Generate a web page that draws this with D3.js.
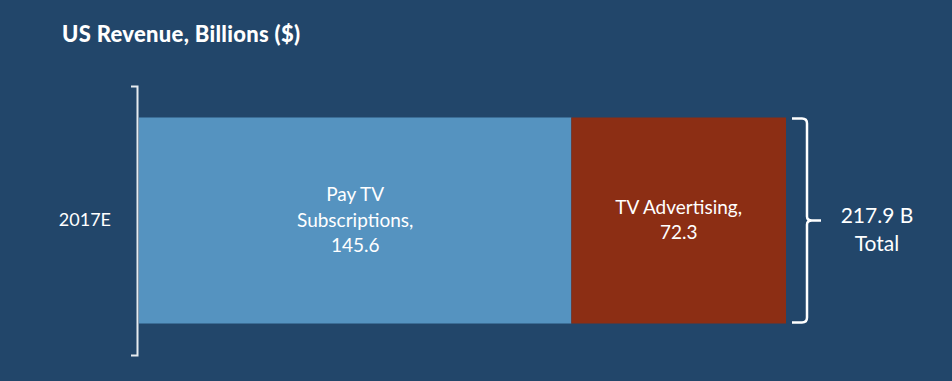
<!DOCTYPE html>
<html>
<head>
<meta charset="utf-8">
<script src="https://cdn.jsdelivr.net/npm/d3@7"></script>
<style>
  html, body { margin: 0; padding: 0; background: #22466a; }
  svg { display: block; }
  text { font-family: Lato, "Open Sans", sans-serif; fill: #ffffff; }
</style>
</head>
<body>
<div id="chart"></div>
<script>
// data
const categories = ['2017E'];
const seriesNames = ['Pay TV Subscriptions', 'TV Advertising'];
const seriesLabels = [['Pay TV', 'Subscriptions,'], ['TV Advertising,']];
const seriesValues = [145.6, 72.3];
const seriesColors = ['#5593c0', '#8c2e14'];
const totalLabel = ['217.9 B', 'Total'];
const title = 'US Revenue, Billions ($)';

const width = 952, height = 381;
const total = d3.sum(seriesValues);

const svg = d3.select('#chart').append('svg')
    .attr('width', width)
    .attr('height', height);

svg.append('rect')
    .attr('width', width)
    .attr('height', height)
    .attr('fill', '#22466a');

// title
svg.append('text')
    .attr('x', 62)
    .attr('y', 42)
    .style('font-size', '22px')
    .style('font-weight', 900)
    .style('letter-spacing', '0.3px')
    .text(title);

const x = d3.scaleLinear()
    .domain([0, total])
    .range([139, 786]);

const y = d3.scaleBand()
    .domain(categories)
    .range([86, 355])
    .padding(0.1326);

// stacked segments
const stacked = [];
let acc = 0;
seriesValues.forEach((v, i) => {
    stacked.push({ name: seriesNames[i], value: v, x0: acc, x1: acc + v, lines: seriesLabels[i], color: seriesColors[i] });
    acc += v;
});

const bars = svg.append('g')
    .selectAll('g')
    .data(stacked)
    .join('g');

bars.append('rect')
    .attr('x', d => x(d.x0))
    .attr('y', y(categories[0]))
    .attr('width', d => x(d.x1) - x(d.x0))
    .attr('height', y.bandwidth())
    .attr('fill', d => d.color);

bars.append('text')
    .attr('text-anchor', 'middle')
    .style('font-size', '19px')
    .attr('transform', d => {
        const n = d.lines.length + 1;
        const cy = y(categories[0]) + y.bandwidth() / 2;
        return 'translate(' + (x(d.x0) + x(d.x1)) / 2 + ',' + (cy - (n - 1) * 25.5 / 2 + 6) + ')';
    })
    .selectAll('tspan')
    .data(d => d.lines.concat([d3.format('.1f')(d.value)]))
    .join('tspan')
    .attr('x', 0)
    .attr('dy', (d, i) => i === 0 ? 0 : 25.5)
    .text(d => d);

// category axis (bracket)
const yAxis = svg.append('g')
    .attr('transform', 'translate(137,0)')
    .call(d3.axisLeft(y).tickSizeInner(0).tickSizeOuter(6).tickPadding(26));

yAxis.select('.domain')
    .attr('stroke', '#e6ebf0')
    .attr('stroke-width', 2)
    .attr('fill', 'none');

yAxis.selectAll('.tick text')
    .attr('fill', '#ffffff')
    .style('font-size', '18px')
    .style('font-family', 'Lato, sans-serif');

// total brace
const bTop = y(categories[0]) + 1;
const bBot = y(categories[0]) + y.bandwidth() - 1;
const bMid = (bTop + bBot) / 2;
const bx0 = x(total) + 6;
const bx1 = bx0 + 15;
const p = d3.path();
p.moveTo(bx0, bTop);
p.lineTo(bx1 - 5, bTop);
p.quadraticCurveTo(bx1, bTop, bx1, bTop + 5);
p.lineTo(bx1, bMid - 4);
p.quadraticCurveTo(bx1, bMid, bx1 + 5, bMid);
p.lineTo(bx1 + 14, bMid);
p.moveTo(bx1 + 5, bMid);
p.quadraticCurveTo(bx1, bMid, bx1, bMid + 4);
p.lineTo(bx1, bBot - 5);
p.quadraticCurveTo(bx1, bBot, bx1 - 5, bBot);
p.lineTo(bx0, bBot);

svg.append('path')
    .attr('d', p.toString())
    .attr('fill', 'none')
    .attr('stroke', '#ffffff')
    .attr('stroke-width', 2.5);

svg.append('text')
    .attr('text-anchor', 'middle')
    .style('font-size', '21px')
    .selectAll('tspan')
    .data(totalLabel)
    .join('tspan')
    .attr('x', 877)
    .attr('y', (d, i) => 223 + i * 27.5)
    .text(d => d);
</script>
</body>
</html>
